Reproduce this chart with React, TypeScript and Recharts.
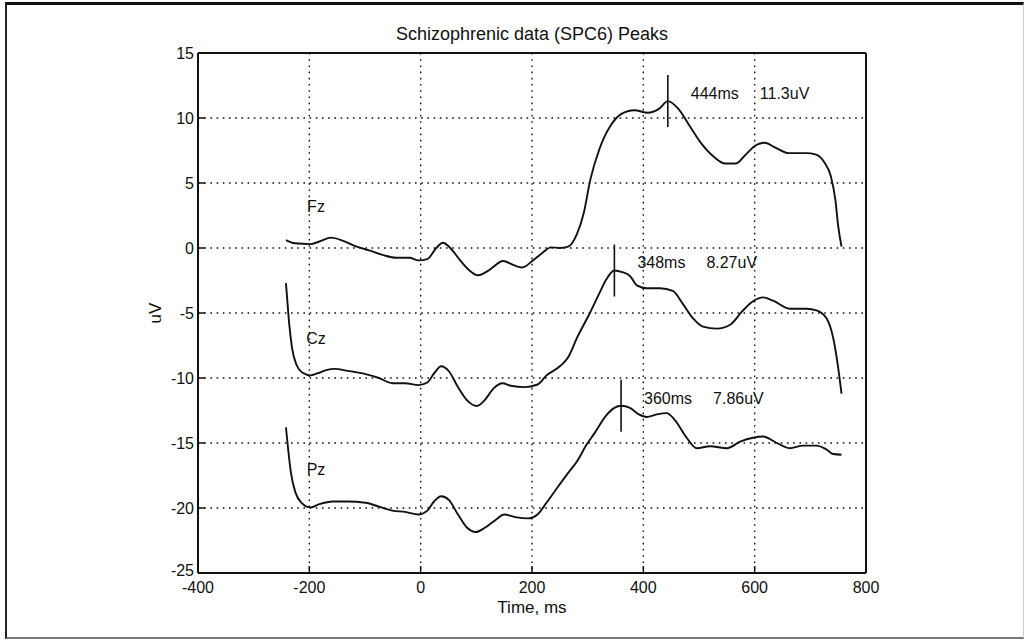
import {
  CartesianGrid,
  Line,
  LineChart,
  ReferenceDot,
  ReferenceLine,
  XAxis,
  YAxis,
} from "recharts";

const TITLE = "Schizophrenic data (SPC6) Peaks";
const TIME_TICKS = [-400, -200, 0, 200, 400, 600, 800];
const UV_TICKS = [-25, -20, -15, -10, -5, 0, 5, 10, 15];

// Fz (plotted as is)
const fzTime = [
  -242, -226, -198, -182, -161, -139, -115, -91, -67, -44, -20, -4, 12, 28, 40, 51, 71, 87, 103,
  123, 148, 166, 182, 202, 218, 234, 250, 265, 281, 293, 305, 321, 341, 360, 384, 408, 428, 444,
  463, 483, 503, 527, 547, 566, 582, 602, 618, 638, 661, 693, 709, 725, 737, 745, 750, 756,
];
const fzUv = [
  0.6, 0.36, 0.3, 0.5, 0.8, 0.55, 0.1, -0.2, -0.55, -0.75, -0.75, -0.95, -0.85, 0, 0.4, 0.1, -0.95,
  -1.7, -2.1, -1.7, -1.0, -1.3, -1.5, -0.95, -0.4, 0.05, 0, 0.1, 1.1, 2.7, 5.3, 7.6, 9.4, 10.3,
  10.6, 10.4, 10.7, 11.3, 10.7, 9.4, 8.1, 7.0, 6.5, 6.5, 7.1, 7.9, 8.1, 7.7, 7.3, 7.3, 7.2, 6.6,
  5.5, 3.7, 1.7, 0.1,
];

// Cz (offset -10)
const czTime = [
  -242, -240, -236, -231, -223, -212, -198, -186, -170, -154, -131, -99, -75, -51, -28, -4, 12, 24,
  37, 51, 67, 83, 101, 115, 131, 147, 162, 186, 210, 226, 250, 265, 281, 304, 322, 333, 348, 362,
  376, 389, 406, 430, 453, 471, 489, 507, 532, 556, 577, 597, 615, 633, 663, 693, 711, 729, 741,
  750, 756,
];
const czUv = [
  -2.7, -3.8, -5.9, -7.7, -9.0, -9.6, -9.8, -9.65, -9.4, -9.3, -9.45, -9.7, -10.0, -10.4, -10.4,
  -10.55, -10.35, -9.65, -9.1, -9.5, -10.7, -11.7, -12.15, -11.7, -10.8, -10.4, -10.6, -10.7, -10.5,
  -9.8, -9.1, -8.4, -6.9, -5.0, -3.4, -2.45, -1.73, -1.85, -2.15, -2.9, -3.1, -3.1, -3.3, -4.3,
  -5.4, -6.05, -6.2, -5.9, -4.9, -4.1, -3.8, -4.05, -4.67, -4.67, -4.8, -5.4, -6.9, -9.2, -11.2,
];

// Pz (offset -20)
const pzTime = [
  -242, -238, -233, -225, -214, -198, -182, -158, -131, -99, -75, -51, -28, -4, 12, 24, 37, 51, 67,
  83, 99, 116, 135, 150, 170, 194, 210, 226, 246, 265, 281, 297, 313, 333, 348, 360, 376, 392, 406,
  424, 442, 456, 478, 496, 520, 550, 574, 597, 615, 640, 663, 687, 711, 729, 741, 756,
];
const pzUv = [
  -13.8, -15.5, -17.3, -18.8, -19.6, -19.95, -19.7, -19.5, -19.5, -19.6, -19.9, -20.2, -20.3, -20.5,
  -20.2, -19.5, -19.1, -19.4, -20.5, -21.5, -21.85, -21.5, -20.9, -20.5, -20.7, -20.8, -20.5, -19.6,
  -18.4, -17.3, -16.4, -15.2, -14.2, -12.9, -12.3, -12.14, -12.3, -12.8, -13.0, -12.8, -12.7, -13.2,
  -14.6, -15.4, -15.25, -15.4, -14.9, -14.6, -14.5, -15.0, -15.4, -15.2, -15.2, -15.5, -15.85, -15.9,
];

const seriesNames = ["Fz", "Cz", "Pz"];
const nameTime = -188;
const nameUv = [3.2, -6.9, -17.0];

const peakTime = [444, 348, 360];
const peakUv = [11.3, -1.73, -12.14];
const peakMs = ["444ms", "348ms", "360ms"];
const peakAmp = ["11.3uV", "8.27uV", "7.86uV"];
const MARK_HALF = 2;

const FONT = "Arial, 'Liberation Sans', Helvetica, sans-serif";
const INK = "#111";

const toPoints = (time: number[], uv: number[]) => time.map((t, i) => ({ t, uv: uv[i] }));
const series = [toPoints(fzTime, fzUv), toPoints(czTime, czUv), toPoints(pzTime, pzUv)];

const tickText = { fill: INK, fontSize: 16, fontFamily: FONT };
const boxLine = { stroke: INK, strokeWidth: 2 };
const tickMark = { stroke: INK, strokeWidth: 1.5 };

// y labels; the bottom one sits a touch high, as in matlab output
function UvTick(p: any) {
  const v = p.payload.value;
  return (
    <text
      x={p.x}
      y={p.y + (v === -25 ? -3 : 0)}
      dy="0.355em"
      textAnchor="end"
      fill={INK}
      fontSize={16}
      fontFamily={FONT}
    >
      {v}
    </text>
  );
}

export default function App() {
  return (
    <div
      style={{
        position: "absolute",
        left: 0,
        top: 0,
        width: 1026,
        height: 643,
        background: "#fff",
        fontFamily: FONT,
      }}
    >
      <div
        style={{
          position: "absolute",
          left: 5,
          top: 2,
          width: 1019,
          height: 637,
          boxSizing: "border-box",
          borderTop: "3px solid #111",
          borderLeft: "2px solid #222",
          borderBottom: "2px solid #777",
          borderRight: "1px solid #ccc",
        }}
      />
      <LineChart
        width={1026}
        height={643}
        margin={{ top: 52, right: 159, bottom: 42, left: 112 }}
        style={{ position: "absolute", left: 0, top: 0 }}
      >
        <CartesianGrid stroke={INK} strokeWidth={1.4} strokeDasharray="1.6 4.6" />
        <XAxis
          dataKey="t"
          type="number"
          domain={[-400, 800]}
          ticks={TIME_TICKS}
          allowDataOverflow
          height={28}
          tickSize={-7}
          tickMargin={16}
          tick={tickText}
          axisLine={boxLine}
          tickLine={tickMark}
          label={{ value: "Time, ms", position: "bottom", offset: 0, fill: INK, fontSize: 17, fontFamily: FONT }}
        />
        <XAxis
          xAxisId="top"
          orientation="top"
          dataKey="t"
          type="number"
          domain={[-400, 800]}
          ticks={TIME_TICKS}
          height={1}
          tick={false}
          tickSize={-7}
          axisLine={boxLine}
          tickLine={tickMark}
          label={{ value: TITLE, position: "top", offset: 12, fill: INK, fontSize: 18, fontFamily: FONT }}
        />
        <YAxis
          type="number"
          domain={[-25, 15]}
          ticks={UV_TICKS}
          allowDataOverflow
          width={86}
          tickSize={-7}
          tickMargin={11}
          tick={UvTick}
          axisLine={boxLine}
          tickLine={tickMark}
          label={{ value: "uV", angle: -90, position: "center", fill: INK, fontSize: 17, fontFamily: FONT }}
        />
        <YAxis
          yAxisId="right"
          orientation="right"
          type="number"
          domain={[-25, 15]}
          ticks={UV_TICKS}
          width={1}
          tick={false}
          tickSize={-7}
          axisLine={boxLine}
          tickLine={tickMark}
        />
        {series.map((data, i) => (
          <Line
            key={seriesNames[i]}
            data={data}
            dataKey="uv"
            type="monotone"
            stroke={INK}
            strokeWidth={1.9}
            dot={false}
            isAnimationActive={false}
          />
        ))}
        {peakTime.map((t, i) => (
          <ReferenceLine
            key={`mark-${t}`}
            segment={[
              { x: t, y: peakUv[i] - MARK_HALF },
              { x: t, y: peakUv[i] + MARK_HALF },
            ]}
            stroke={INK}
            strokeWidth={1.6}
          />
        ))}
        {peakTime.map((t, i) => (
          <ReferenceDot
            key={`peak-${t}`}
            x={t}
            y={peakUv[i] + MARK_HALF}
            r={1}
            shape={(p: any) => (
              <g fill={INK} fontSize={16} fontFamily={FONT}>
                <text x={p.cx + 23} y={p.cy + 24}>
                  {peakMs[i]}
                </text>
                <text x={p.cx + 92} y={p.cy + 24}>
                  {peakAmp[i]}
                </text>
              </g>
            )}
          />
        ))}
        {seriesNames.map((name, i) => (
          <ReferenceDot
            key={`name-${name}`}
            x={nameTime}
            y={nameUv[i]}
            r={1}
            shape={(p: any) => (
              <text
                x={p.cx}
                y={p.cy + 6}
                textAnchor="middle"
                fill={INK}
                fontSize={16}
                fontFamily={FONT}
              >
                {name}
              </text>
            )}
          />
        ))}
      </LineChart>
    </div>
  );
}
